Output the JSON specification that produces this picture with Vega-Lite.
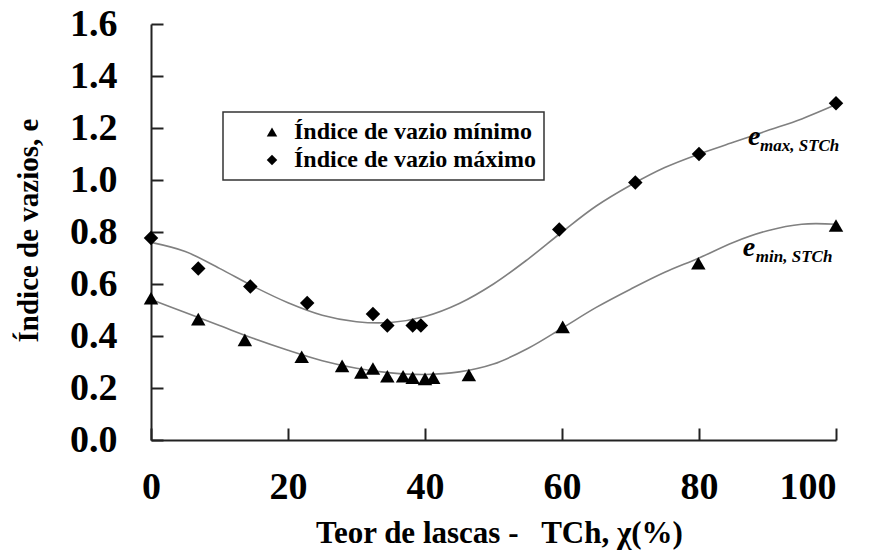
{
  "$schema": "https://vega.github.io/schema/vega-lite/v6.json",
  "width": 685,
  "height": 416,
  "autosize": {"type": "none"},
  "padding": {"left": 151, "top": 24, "right": 33, "bottom": 115},
  "background": "white",
  "config": {
    "view": {"stroke": null},
    "font": "Liberation Serif",
    "axis": {
      "grid": false,
      "domainColor": "#222222",
      "domainWidth": 2,
      "tickColor": "#222222",
      "tickWidth": 2,
      "tickSize": -12,
      "labelFont": "Liberation Serif",
      "labelFontSize": 38,
      "labelFontWeight": "bold",
      "labelColor": "black",
      "titleFont": "Liberation Serif",
      "titleFontSize": 31,
      "titleFontWeight": "bold",
      "titleColor": "black"
    },
    "legend": {
      "strokeColor": "#333333",
      "strokeWidth": 1.5,
      "fillColor": "white",
      "padding": 8,
      "labelFont": "Liberation Serif",
      "labelFontSize": 24,
      "labelFontWeight": "bold",
      "labelColor": "black",
      "labelLimit": 0,
      "symbolSize": 110,
      "symbolFillColor": "black",
      "symbolStrokeColor": "black",
      "symbolOffset": 29,
      "labelOffset": 10,
      "rowPadding": 4
    }
  },
  "datasets": {
    "points": [
      {"x": 0, "e": 0.545, "serie": "Índice de vazio mínimo"},
      {"x": 6.9, "e": 0.465, "serie": "Índice de vazio mínimo"},
      {"x": 13.7, "e": 0.385, "serie": "Índice de vazio mínimo"},
      {"x": 22, "e": 0.32, "serie": "Índice de vazio mínimo"},
      {"x": 27.9, "e": 0.285, "serie": "Índice de vazio mínimo"},
      {"x": 30.7, "e": 0.26, "serie": "Índice de vazio mínimo"},
      {"x": 32.4, "e": 0.275, "serie": "Índice de vazio mínimo"},
      {"x": 34.5, "e": 0.245, "serie": "Índice de vazio mínimo"},
      {"x": 36.8, "e": 0.245, "serie": "Índice de vazio mínimo"},
      {"x": 38.2, "e": 0.24, "serie": "Índice de vazio mínimo"},
      {"x": 40, "e": 0.235, "serie": "Índice de vazio mínimo"},
      {"x": 41.2, "e": 0.24, "serie": "Índice de vazio mínimo"},
      {"x": 46.4, "e": 0.25, "serie": "Índice de vazio mínimo"},
      {"x": 60.1, "e": 0.435, "serie": "Índice de vazio mínimo"},
      {"x": 79.9, "e": 0.68, "serie": "Índice de vazio mínimo"},
      {"x": 100, "e": 0.825, "serie": "Índice de vazio mínimo"},
      {"x": 0, "e": 0.777, "serie": "Índice de vazio máximo"},
      {"x": 6.9, "e": 0.66, "serie": "Índice de vazio máximo"},
      {"x": 14.5, "e": 0.59, "serie": "Índice de vazio máximo"},
      {"x": 22.8, "e": 0.527, "serie": "Índice de vazio máximo"},
      {"x": 32.4, "e": 0.485, "serie": "Índice de vazio máximo"},
      {"x": 34.5, "e": 0.44, "serie": "Índice de vazio máximo"},
      {"x": 38.2, "e": 0.44, "serie": "Índice de vazio máximo"},
      {"x": 39.4, "e": 0.44, "serie": "Índice de vazio máximo"},
      {"x": 59.6, "e": 0.81, "serie": "Índice de vazio máximo"},
      {"x": 70.7, "e": 0.99, "serie": "Índice de vazio máximo"},
      {"x": 80, "e": 1.1, "serie": "Índice de vazio máximo"},
      {"x": 100, "e": 1.295, "serie": "Índice de vazio máximo"}
    ],
    "curves": [
      {"x": 0, "e": 0.76, "curve": "emax"},
      {"x": 5, "e": 0.725, "curve": "emax"},
      {"x": 10, "e": 0.66, "curve": "emax"},
      {"x": 15, "e": 0.59, "curve": "emax"},
      {"x": 20, "e": 0.528, "curve": "emax"},
      {"x": 25, "e": 0.48, "curve": "emax"},
      {"x": 30, "e": 0.455, "curve": "emax"},
      {"x": 35, "e": 0.452, "curve": "emax"},
      {"x": 40, "e": 0.475, "curve": "emax"},
      {"x": 45, "e": 0.525, "curve": "emax"},
      {"x": 50, "e": 0.6, "curve": "emax"},
      {"x": 55, "e": 0.695, "curve": "emax"},
      {"x": 60, "e": 0.8, "curve": "emax"},
      {"x": 65, "e": 0.9, "curve": "emax"},
      {"x": 70, "e": 0.98, "curve": "emax"},
      {"x": 75, "e": 1.048, "curve": "emax"},
      {"x": 80, "e": 1.1, "curve": "emax"},
      {"x": 85, "e": 1.145, "curve": "emax"},
      {"x": 90, "e": 1.19, "curve": "emax"},
      {"x": 95, "e": 1.235, "curve": "emax"},
      {"x": 100, "e": 1.29, "curve": "emax"},
      {"x": 0, "e": 0.54, "curve": "emin"},
      {"x": 5, "e": 0.49, "curve": "emin"},
      {"x": 10, "e": 0.44, "curve": "emin"},
      {"x": 15, "e": 0.39, "curve": "emin"},
      {"x": 20, "e": 0.345, "curve": "emin"},
      {"x": 25, "e": 0.305, "curve": "emin"},
      {"x": 30, "e": 0.276, "curve": "emin"},
      {"x": 35, "e": 0.258, "curve": "emin"},
      {"x": 40, "e": 0.252, "curve": "emin"},
      {"x": 45, "e": 0.262, "curve": "emin"},
      {"x": 50, "e": 0.292, "curve": "emin"},
      {"x": 55, "e": 0.352, "curve": "emin"},
      {"x": 60, "e": 0.43, "curve": "emin"},
      {"x": 65, "e": 0.51, "curve": "emin"},
      {"x": 70, "e": 0.58, "curve": "emin"},
      {"x": 75, "e": 0.645, "curve": "emin"},
      {"x": 80, "e": 0.7, "curve": "emin"},
      {"x": 85, "e": 0.76, "curve": "emin"},
      {"x": 90, "e": 0.805, "curve": "emin"},
      {"x": 95, "e": 0.83, "curve": "emin"},
      {"x": 100, "e": 0.83, "curve": "emin"}
    ]
  },
  "layer": [
    {
      "data": {"name": "curves"},
      "mark": {"type": "line", "interpolate": "catmull-rom", "color": "#808080", "strokeWidth": 1.6},
      "encoding": {
        "x": {
          "field": "x", "type": "quantitative",
          "scale": {"domain": [0, 100], "nice": false},
          "axis": {
            "values": [0, 20, 40, 60, 80, 100],
            "format": "d",
            "labelFlush": false,
            "labelAlign": {"condition": {"test": "datum.value == 100", "value": "right"}, "value": "center"},
            "labelPadding": 40,
            "title": "Teor de lascas -\u00a0\u00a0 TCh, χ(%)",
            "titleX": 348,
            "titleY": 102,
            "titleBaseline": "alphabetic"
          }
        },
        "y": {
          "field": "e", "type": "quantitative",
          "scale": {"domain": [0, 1.6], "nice": false},
          "axis": {
            "values": [0, 0.2, 0.4, 0.6, 0.8, 1.0, 1.2, 1.4, 1.6],
            "format": ".1f",
            "labelPadding": 46,
            "title": "Índice de vazios, e",
            "titleX": -114,
            "titleY": 206,
            "titleFontSize": 29,
            "titleBaseline": "alphabetic"
          }
        },
        "detail": {"field": "curve"}
      }
    },
    {
      "data": {"name": "points"},
      "mark": {"type": "point", "filled": true, "color": "black", "opacity": 1, "size": 210},
      "encoding": {
        "x": {"field": "x", "type": "quantitative"},
        "y": {"field": "e", "type": "quantitative"},
        "shape": {
          "field": "serie", "type": "nominal",
          "scale": {"domain": ["Índice de vazio mínimo", "Índice de vazio máximo"], "range": ["triangle-up", "diamond"]},
          "legend": {
            "title": null,
            "orient": "none",
            "legendX": 72,
            "legendY": 88
          }
        }
      }
    },
    {
      "data": {"values": [{}]},
      "mark": {"type": "text", "text": "e", "font": "Liberation Serif", "fontStyle": "italic", "fontWeight": "bold", "fontSize": 28, "align": "left", "baseline": "alphabetic", "color": "black"},
      "encoding": {"x": {"datum": 87.15}, "y": {"datum": 1.135}}
    },
    {
      "data": {"values": [{}]},
      "mark": {"type": "text", "text": "max, STCh", "font": "Liberation Serif", "fontStyle": "italic", "fontWeight": "bold", "fontSize": 17, "align": "left", "baseline": "alphabetic", "color": "black"},
      "encoding": {"x": {"datum": 88.9}, "y": {"datum": 1.112}}
    },
    {
      "data": {"values": [{}]},
      "mark": {"type": "text", "text": "e", "font": "Liberation Serif", "fontStyle": "italic", "fontWeight": "bold", "fontSize": 28, "align": "left", "baseline": "alphabetic", "color": "black"},
      "encoding": {"x": {"datum": 86.4}, "y": {"datum": 0.708}}
    },
    {
      "data": {"values": [{}]},
      "mark": {"type": "text", "text": "min, STCh", "font": "Liberation Serif", "fontStyle": "italic", "fontWeight": "bold", "fontSize": 17, "align": "left", "baseline": "alphabetic", "color": "black"},
      "encoding": {"x": {"datum": 88.3}, "y": {"datum": 0.685}}
    }
  ]
}
